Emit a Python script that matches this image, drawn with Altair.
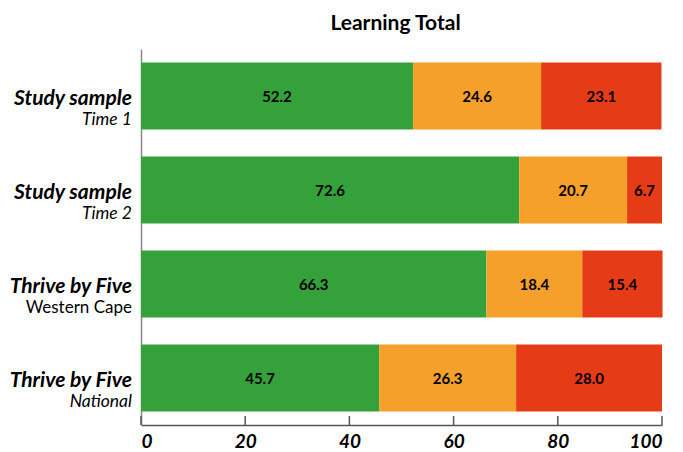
import altair as alt
import pandas as pd

# ---- data ----
groups = ["Study sample|Time 1", "Study sample|Time 2", "Thrive by Five|Western Cape", "Thrive by Five|National"]
line1 = ["Study sample", "Study sample", "Thrive by Five", "Thrive by Five"]
line2 = ["Time 1", "Time 2", "Western Cape", "National"]
line2_style = ["italic", "italic", "normal", "italic"]
categories = ["On track", "Falling behind", "Falling far behind"]
on_track = [52.2, 72.6, 66.3, 45.7]
falling_behind = [24.6, 20.7, 18.4, 26.3]
far_behind = [23.1, 6.7, 15.4, 28.0]
colors = ["#34a13a", "#f5a02b", "#e63b17"]
tick_values = [0, 20, 40, 60, 80, 100]

FONT = "Lato"

rows = []
for i, g in enumerate(groups):
    start = 0.0
    for c, vals in zip(categories, [on_track, falling_behind, far_behind]):
        v = vals[i]
        rows.append({"group": g, "cat": c, "value": v,
                     "start": start, "end": start + v, "mid": start + v / 2,
                     "label": f"{v:.1f}"})
        start += v
bars_df = pd.DataFrame(rows)
labels_df = pd.DataFrame({"group": groups, "l1": line1, "l2": line2, "style": line2_style})
ticks_df = pd.DataFrame({"t": tick_values})

W, H = 521, 376

y_scale = alt.Scale(domain=groups, paddingInner=0.287, paddingOuter=0.1435)
x_scale = alt.Scale(domain=[0, 100], nice=False)

base = alt.Chart(bars_df)

bars = base.mark_bar().encode(
    y=alt.Y("group:N", scale=y_scale, sort=groups,
            axis=alt.Axis(labels=False, ticks=False, title=None, domainColor="#888888", domainWidth=1.5)),
    x=alt.X("start:Q", scale=x_scale,
            axis=alt.Axis(values=tick_values, title=None, ticks=False, grid=False,
                          labelFont=FONT, labelFontSize=19, labelFontWeight="bold",
                          labelFontStyle="italic", labelColor="#000000", labelPadding=7,
                          domainColor="#555555", domainWidth=1.5)),
    x2="end:Q",
    color=alt.Color("cat:N", scale=alt.Scale(domain=categories, range=colors), legend=None),
)

values = base.mark_text(font=FONT, fontSize=15, fontWeight="bold", color="#000000", baseline="middle", dy=1).encode(
    y=alt.Y("group:N", scale=y_scale, sort=groups),
    x=alt.X("mid:Q", scale=x_scale),
    text="label:N",
)

lab1 = alt.Chart(labels_df).mark_text(font=FONT, fontSize=21, fontWeight="bold", fontStyle="italic",
                                      align="right", baseline="alphabetic", dy=8.5, color="#000000").encode(
    y=alt.Y("group:N", scale=y_scale, sort=groups),
    x=alt.value(-9),
    text="l1:N",
)

lab2a = alt.Chart(labels_df).transform_filter(alt.datum.style == "italic").mark_text(
    font=FONT, fontSize=17.5, fontStyle="italic", align="right", baseline="alphabetic", dy=29, color="#000000").encode(
    y=alt.Y("group:N", scale=y_scale, sort=groups),
    x=alt.value(-9),
    text="l2:N",
)
lab2b = alt.Chart(labels_df).transform_filter(alt.datum.style == "normal").mark_text(
    font=FONT, fontSize=17, align="right", baseline="alphabetic", dy=29, color="#000000").encode(
    y=alt.Y("group:N", scale=y_scale, sort=groups),
    x=alt.value(-9),
    text="l2:N",
)

ticks = alt.Chart(ticks_df).mark_rule(color="#555555", strokeWidth=1.5).encode(
    x=alt.X("t:Q", scale=x_scale),
    y=alt.value(H - 9),
    y2=alt.value(H),
)

chart = alt.layer(bars, values, lab1, lab2a, lab2b, ticks).properties(
    width=W, height=H,
    title=alt.TitleParams("Learning Total", font=FONT, fontSize=21, fontWeight="bold", color="#000000",
                          anchor="middle", frame="group", baseline="alphabetic", offset=-2, dx=-6),
    autosize=alt.AutoSizeParams(type="none"),
    padding={"left": 133, "top": 41, "right": 13, "bottom": 27},
).configure_view(stroke=None).configure_axis(grid=False)

chart.save("out.html", embed_options={"renderer": "svg", "actions": False})
